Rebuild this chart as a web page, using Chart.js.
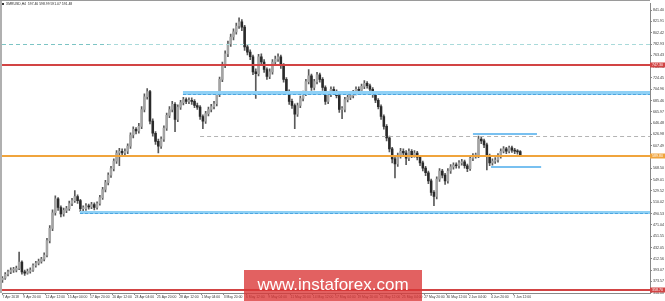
<!DOCTYPE html>
<html><head><meta charset="utf-8">
<script src="https://cdn.jsdelivr.net/npm/chart.js@4/dist/chart.umd.min.js"></script>
<style>html,body{margin:0;padding:0;background:#fff}#wrap{width:665px;height:301px;position:relative}</style>
</head><body><div id="wrap"><canvas id="c" width="665" height="301"></canvas></div>
<script>
// Time index in H4 steps counted from 7 Apr 2018 00:00 (each candle = 8 hours)
const barTimes = Array.from({length:187}, (_, k) => 2 + 2 * k);

const opens = [376,379,386,390,393,393,396,407,390,388,
391,393,401,405,408,412,419,444,465,492,
516,501,490,496,499,508,513,520,513,499,
499,504,502,506,501,508,518,532,544,557,
568,581,595,598,595,598,607,626,636,633,
641,670,692,701,650,629,615,607,619,638,
660,670,679,653,674,682,687,684,686,684,
677,674,658,650,663,670,675,680,696,722,
747,766,783,795,804,814,821,812,778,769,
761,735,732,761,752,739,727,735,752,757,
761,746,722,701,684,677,662,677,689,698,
718,728,708,718,730,722,708,684,696,705,
701,694,670,670,687,691,694,699,705,703,
710,715,711,705,696,686,675,658,641,621,
602,585,576,590,598,595,586,598,592,595,
588,578,569,561,547,527,520,550,564,557,
547,564,571,574,573,578,580,573,568,586,
590,590,619,616,609,590,578,581,583,590,
598,602,598,604,600,598,597.46];

const highs = [382,389,393,397,398,400,424,409,393,395,
397,404,408,412,415,423,448,470,497,521,
518,504,500,503,512,517,530,523,515,504,
508,507,510,509,511,522,536,548,561,572,
585,599,603,602,602,611,630,640,639,646,
675,697,706,703,654,632,619,623,642,664,
675,684,682,678,686,691,690,690,690,687,
681,677,661,667,674,679,684,700,726,752,
771,788,800,809,819,828,825,815,782,773,
764,740,765,766,756,742,740,756,762,766,
764,749,725,704,688,680,681,693,702,722,
739,731,722,734,733,725,711,700,709,709,
704,697,675,691,695,698,703,709,709,714,
720,718,714,708,699,689,678,661,644,624,
605,589,595,603,602,599,602,601,599,598,
591,581,572,564,550,530,554,568,567,560,
568,575,578,578,582,584,583,576,590,594,
595,624,622,619,612,593,585,587,594,602,
606,605,607,607,603,601,598.99];

const lows = [372,377,383,387,389,390,394,386,384,386,
388,391,398,402,405,409,416,440,461,488,
496,485,486,492,496,504,510,508,494,495,
496,498,499,497,498,505,515,528,540,553,
564,577,573,590,591,594,603,621,628,629,
637,666,688,645,624,610,595,603,615,634,
656,666,632,649,670,678,680,680,679,673,
670,653,637,646,659,666,671,676,692,718,
742,761,779,790,800,810,806,772,764,756,
730,689,728,747,734,722,723,731,748,753,
741,717,696,679,672,637,658,673,685,694,
714,703,704,714,717,703,679,680,692,697,
690,665,654,666,683,687,690,695,699,699,
706,707,701,691,682,671,653,636,616,597,
578,552,572,586,590,575,582,587,588,583,
573,564,556,542,522,504,516,546,552,541,
543,560,567,569,569,574,569,563,565,582,
586,587,611,604,566,573,574,577,579,586,
595,594,595,596,594,593,591.07];

const closes = [379,386,390,393,393,396,407,390,388,391,
393,401,405,408,412,419,444,465,492,516,
501,490,496,499,508,513,520,513,499,499,
504,502,506,501,508,518,532,544,557,568,
581,595,598,595,598,607,626,636,633,641,
670,692,701,650,629,615,607,619,638,660,
670,679,653,674,682,687,684,686,684,677,
674,658,650,663,670,675,680,696,722,747,
766,783,795,804,814,821,812,778,769,761,
735,732,761,752,739,727,735,752,757,761,
746,722,701,684,677,662,677,689,698,718,
728,708,718,730,722,708,684,696,705,701,
694,670,670,687,691,694,699,705,703,710,
715,711,705,696,686,675,658,641,621,602,
585,576,590,598,595,586,598,592,595,588,
578,569,561,547,527,520,550,564,557,547,
564,571,574,573,578,580,573,568,586,590,
590,619,616,609,590,578,581,583,590,598,
602,598,604,600,598,597,591.48];

// X-axis tick labels and their H4 index
const xTickLabels = ["7 Apr 2018","9 Apr 20:00","12 Apr 12:00","15 Apr 04:00","17 Apr 20:00","20 Apr 12:00","23 Apr 04:00","25 Apr 20:00","28 Apr 12:00","1 May 04:00","3 May 20:00","6 May 12:00","9 May 04:00","11 May 20:00","14 May 12:00","17 May 04:00","19 May 20:00","22 May 12:00","25 May 04:00","27 May 20:00","30 May 12:00","2 Jun 04:00","4 Jun 20:00","7 Jun 12:00"];
const xTickHours = [2,17,33,49,65,81,97,113,129,145,161,177,193,209,225,241,257,273,289,305,321,337,353,369];

// Y-axis tick labels (price)
const yTickValues = [354.08,373.57,393.07,412.56,432.05,451.55,471.04,490.53,510.02,529.52,549.01,568.50,588.00,607.49,626.98,646.48,665.97,685.46,704.96,724.45,743.94,763.43,782.93,802.42,821.91,841.40];

// Horizontal levels drawn on the chart
const levelPrices = [783.2, 747.3, 699.3, 624.0, 627.5, 589.8, 571.0, 493.9, 358.7];
const levelFrom   = [null, null, 131.7, 144, 340, null, 353, 57.7, null];
const levelTo     = [null, null, null, null, 386, null, 389, null, null];
const axisTags    = [{level:1, text:"747.30"}, {level:5, text:"589.80"}, {level:8, text:"358.70"}];

const headerText = "XMRUSD,H4  597.46 598.99 591.07 591.48";
const watermark = "www.instaforex.com";

const levelStyles = [
  {color:'#a9dada', width:1, dash:[4,3]},
  {color:'#d24444', width:2},
  {color:'#8fd0f5', width:4, inner:'#4da6e0'},
  {color:'#b4b4b4', width:1, dash:[4,3]},
  {color:'#78c0f0', width:2},
  {color:'#f0a43c', width:2},
  {color:'#78c0f0', width:2},
  {color:'#8fd0f5', width:3, inner:'#4da6e0'},
  {color:'#d24444', width:2}
];
const tagColors = {1:'#d24444', 5:'#f0a43c', 8:'#d24444'};

const levelsPlugin = {
  id:'levels',
  afterDatasetsDraw(chart){
    const {ctx, chartArea:a, scales:{x, y}} = chart;
    ctx.save();
    ctx.beginPath(); ctx.rect(a.left, a.top, a.right-a.left, a.bottom-a.top); ctx.clip();
    levelPrices.forEach((p, i) => {
      const st = levelStyles[i];
      const py = Math.round(y.getPixelForValue(p)) + (st.width % 2 ? 0.5 : 0);
      const x0 = levelFrom[i] == null ? a.left : x.getPixelForValue(levelFrom[i]);
      const x1 = levelTo[i] == null ? a.right : x.getPixelForValue(levelTo[i]);
      ctx.beginPath();
      ctx.setLineDash(st.dash || []);
      ctx.strokeStyle = st.color; ctx.lineWidth = st.width;
      ctx.moveTo(x0, py); ctx.lineTo(x1, py); ctx.stroke();
      if (i === 0) {
        ctx.beginPath(); ctx.strokeStyle = '#7cc4c4';
        ctx.moveTo(x0, py); ctx.lineTo(x.getPixelForValue(78), py); ctx.stroke();
      }
      if (st.inner) {
        ctx.beginPath(); ctx.setLineDash([3,2]);
        ctx.strokeStyle = st.inner; ctx.lineWidth = 1;
        const iy = Math.round(y.getPixelForValue(p)) + 1.5;
        ctx.moveTo(x0, iy); ctx.lineTo(x1, iy); ctx.stroke();
      }
    });
    ctx.restore();
  },
  afterDraw(chart){
    const {ctx, chartArea:a, scales:{y}} = chart;
    ctx.save();
    // frame
    ctx.fillStyle = '#b0b0b0'; ctx.fillRect(0, 0, 2, a.bottom);
    ctx.strokeStyle = '#9a9a9a'; ctx.lineWidth = 1;
    ctx.beginPath(); ctx.moveTo(0, 0.5); ctx.lineTo(a.right, 0.5); ctx.stroke();
    // axis tags
    ctx.font = '3.6px "Liberation Sans"'; ctx.textBaseline = 'middle'; ctx.textAlign = 'left';
    axisTags.forEach(t => {
      const py = Math.round(y.getPixelForValue(levelPrices[t.level]));
      ctx.fillStyle = tagColors[t.level];
      ctx.fillRect(a.right, py - 2.5, 665 - a.right, 5);
      ctx.fillStyle = '#fff';
      ctx.fillText(t.text, a.right + 2, py + 0.3);
    });
    // header
    ctx.fillStyle = '#333'; ctx.fillRect(2, 3, 2, 2);
    ctx.fillStyle = '#222'; ctx.font = '3.4px "Liberation Sans"'; ctx.textBaseline = 'middle';
    ctx.fillText(headerText, 6, 4.2);
    // watermark
    ctx.fillStyle = 'rgba(218,52,52,0.78)';
    ctx.fillRect(244, 270, 178, 31);
    ctx.fillStyle = '#ffffff'; ctx.font = '17px "Liberation Sans"';
    ctx.textAlign = 'center'; ctx.textBaseline = 'alphabetic';
    ctx.fillText(watermark, 333, 290);
    ctx.restore();
  }
};

const wickData = barTimes.map((t, i) => ({x:t, y:[lows[i], highs[i]]}));
const bodyData = barTimes.map((t, i) => ({x:t, y:[opens[i], closes[i]]}));

new Chart(document.getElementById('c'), {
  type:'bar',
  data:{datasets:[
    {label:'wick', data:wickData, backgroundColor:'#5a5a5a', barThickness:1, grouped:false, order:2},
    {label:'body', data:bodyData, grouped:false, order:1, barThickness:1.9, minBarLength:1,
     backgroundColor: c => (closes[c.dataIndex] >= opens[c.dataIndex] ? '#a4a4a4' : '#2a2a2a')}
  ]},
  options:{
    responsive:false, animation:false, devicePixelRatio:1,
    layout:{padding:{left:2, top:1, right:0, bottom:0}},
    plugins:{legend:{display:false}, tooltip:{enabled:false}},
    scales:{
      x:{type:'linear', min:1.7, max:467.2, position:'bottom', offset:false,
        afterFit(s){ s.height = 8; },
        afterBuildTicks(s){ s.ticks = xTickHours.map(v => ({value:v})); },
        ticks:{align:'start', maxRotation:0, minRotation:0, autoSkip:false, padding:0,
          font:{size:3.4, family:'"Liberation Sans"'}, color:'#333',
          callback:(v, i) => xTickLabels[i]},
        grid:{drawOnChartArea:false, drawTicks:true, tickLength:2, color:'#888', offset:false},
        border:{color:'#888'}},
      y:{type:'linear', position:'right', min:353.6, max:853.4,
        afterFit(s){ s.width = 15; },
        afterBuildTicks(s){ s.ticks = yTickValues.map(v => ({value:v})); },
        ticks:{padding:1, font:{size:3.6, family:'"Liberation Sans"'}, color:'#333',
          callback:v => v.toFixed(2)},
        grid:{drawOnChartArea:false, drawTicks:true, tickLength:2, color:'#888'},
        border:{color:'#888'}}
    }
  },
  plugins:[levelsPlugin]
});
</script></body></html>
